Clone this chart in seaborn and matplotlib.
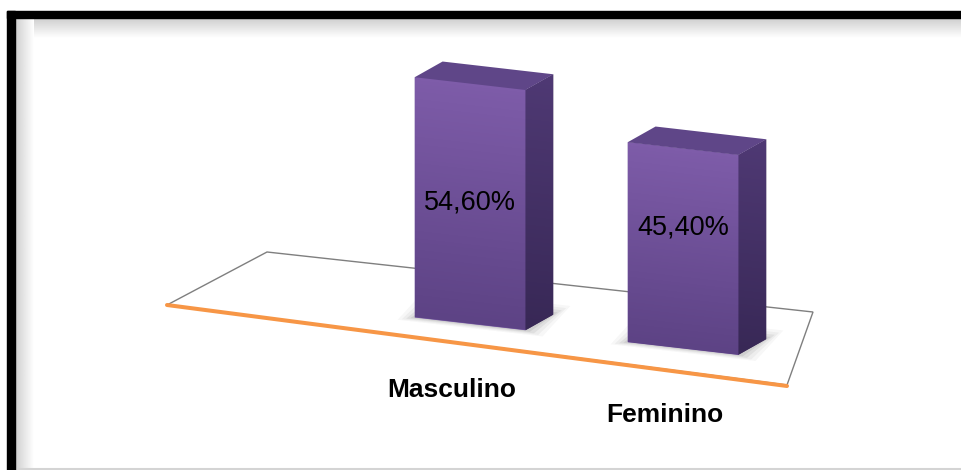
import numpy as np
import seaborn as sns
import matplotlib.pyplot as plt
from matplotlib.patches import Polygon, Rectangle
from matplotlib.transforms import Affine2D
from matplotlib.colors import LinearSegmentedColormap

# data
categorias = ['Masculino', 'Feminino']
porcentagens = [54.6, 45.4]
rotulos = ['54,60%', '45,40%']

sns.set_theme(style='white')
plt.rcParams['font.family'] = ['Liberation Sans', 'DejaVu Sans']

W, H = 961, 470
fig = plt.figure(figsize=(W / 100, H / 100), dpi=100)
fig.patch.set_facecolor('white')

# background axes in pixel units: frame + floor of the 3d plot area
bg = fig.add_axes([0, 0, 1, 1])
bg.set_axis_off()

gris = LinearSegmentedColormap.from_list('g', ['#cfcfcf', '#ffffff'])
bg.imshow(np.linspace(0, 1, 40)[:, None], extent=(15, W, 38, 18), cmap=gris, aspect='auto', zorder=1)
bg.imshow(np.linspace(0, 1, 40)[None, :], extent=(15, 34, H, 18), cmap=gris, aspect='auto', zorder=1)
bg.add_patch(Rectangle((7, 11), W - 7, 7, color='black', zorder=3))
bg.add_patch(Rectangle((7, 11), 8, H - 11, color='black', zorder=3))
bg.plot([15, W], [469, 469], color='#d4d4d4', lw=1.5, zorder=2)

piso = [(167, 305), (267, 252), (813, 312), (787, 385)]
bg.add_patch(Polygon(piso, closed=True, facecolor='white', edgecolor='#7f7f7f', lw=1.0, zorder=4))
bg.plot([167, 787], [305, 386], color='#F79646', lw=2.9, solid_capstyle='round', zorder=5)
bg.set_xlim(0, W)
bg.set_ylim(H, 0)

# bar axes, sheared so the base line runs down to the right
ax = fig.add_axes([0, 0, 1, 1])
ax.patch.set_alpha(0)
sns.barplot(x=categorias, y=porcentagens, ax=ax, width=0.52, color='#6A4E99', saturation=1)
ax.set_xlim(-2.207, 2.305)
ax.set_ylim(-33.2, 73.6)
ax.set_axis_off()

shear = Affine2D().from_values(1, -5.57, 0, 1, 0, 0) + ax.transData
dx, dy = 0.131, 4.3

frente = LinearSegmentedColormap.from_list('f', ['#7E5CA9', '#5D4385'])
lado = LinearSegmentedColormap.from_list('l', ['#4F3974', '#382856'])

for barra in ax.patches:
    x0, w, h = barra.get_x(), barra.get_width(), barra.get_height()
    x1 = x0 + w
    barra.set_transform(shear)
    barra.set_edgecolor('none')
    barra.set_zorder(3)

    # soft shadow around the base
    for e, a in [(0.08, 0.04), (0.06, 0.05), (0.04, 0.07), (0.02, 0.09)]:
        sombra = [(x0 - e, -e * 12), (x1 + e, -e * 12), (x1 + dx + e, dy + e * 30), (x0 + dx - e, dy + e * 30)]
        ax.add_patch(Polygon(sombra, closed=True, facecolor='#333333', alpha=a, edgecolor='none',
                             transform=shear, zorder=2))

    grad = ax.imshow(np.linspace(0, 1, 64)[:, None], extent=(x0, x1, 0, h), origin='upper',
                     cmap=frente, aspect='auto', zorder=4)
    grad.set_transform(shear)
    grad.set_clip_path(barra)

    ladopoly = Polygon([(x1, 0), (x1, h), (x1 + dx, h + dy), (x1 + dx, dy)], closed=True,
                       facecolor='#45325F', edgecolor='none', transform=shear, zorder=3)
    ax.add_patch(ladopoly)
    gl = ax.imshow(np.linspace(0, 1, 64)[:, None], extent=(x1, x1 + dx, 0, h + dy), origin='upper',
                   cmap=lado, aspect='auto', zorder=4)
    gl.set_transform(shear)
    gl.set_clip_path(ladopoly)

    ax.add_patch(Polygon([(x0, h), (x1, h), (x1 + dx, h + dy), (x0 + dx, h + dy)], closed=True,
                         facecolor='#5F4688', edgecolor='none', transform=shear, zorder=4))

ax.set_xlim(-2.207, 2.305)
ax.set_ylim(-33.2, 73.6)

altura_rotulo = np.mean(porcentagens) * 0.55
for i, (cat, rot) in enumerate(zip(categorias, rotulos)):
    ax.text(i, altura_rotulo, rot, transform=shear, ha='center', va='center',
            fontsize=19.5, color='black', zorder=6)
    ax.text(i - 0.085, -15.6, cat, transform=shear, ha='center', va='center',
            fontsize=19, fontweight='bold', color='black', zorder=6)

fig.savefig('out.png', dpi=100)
